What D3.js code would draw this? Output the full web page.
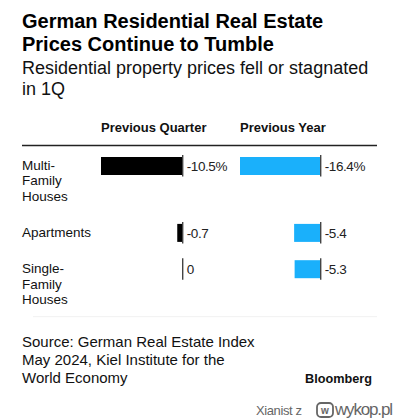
<!DOCTYPE html>
<html>
<head>
<meta charset="utf-8">
<script src="https://cdn.jsdelivr.net/npm/d3@7"></script>
<style>
  html, body { margin: 0; padding: 0; background: #fff; }
  svg { display: block; }
  text { font-family: "Liberation Sans", Arial, sans-serif; }
</style>
</head>
<body>
<svg id="chart" width="400" height="419"></svg>
<script>
// ---- Data ----
const categories = [["Multi-", "Family", "Houses"], ["Apartments"], ["Single-", "Family", "Houses"]];
const columns = ["Previous Quarter", "Previous Year"];
const prevQuarter = [-10.5, -0.7, 0];
const prevYear = [-16.4, -5.4, -5.3];
const prevQuarterLabels = ["-10.5%", "-0.7", "0"];
const prevYearLabels = ["-16.4%", "-5.4", "-5.3"];
const titleLines = ["German Residential Real Estate", "Prices Continue to Tumble"];
const subtitleLines = ["Residential property prices fell or stagnated", "in 1Q"];
const sourceLines = ["Source: German Real Estate Index", "May 2024, Kiel Institute for the", "World Economy"];

// ---- Layout ----
const svg = d3.select("#chart");
const W = 400, H = 419;
svg.append("rect").attr("width", W).attr("height", H).attr("fill", "#fff");
const left = 22, right = 377;
const blue = "#1ab0fb";

// Title
svg.append("g").selectAll("text").data(titleLines).join("text")
  .attr("x", left).attr("y", (d, i) => 27.5 + i * 23)
  .attr("font-size", 20).attr("font-weight", "bold").attr("fill", "#000")
  .text(d => d);

// Subtitle
svg.append("g").selectAll("text").data(subtitleLines).join("text")
  .attr("x", left).attr("y", (d, i) => 74 + i * 21)
  .attr("font-size", 18).attr("fill", "#111")
  .text(d => d);

// Scales (each column has its own scale)
const xQ = d3.scaleLinear().domain([d3.min(prevQuarter), 0]).range([101, 182.7]);
const xY = d3.scaleLinear().domain([d3.min(prevYear), 0]).range([240, 320.7]);
const colDefs = [
  { name: columns[0], scale: xQ, values: prevQuarter, labels: prevQuarterLabels, color: "#000" },
  { name: columns[1], scale: xY, values: prevYear, labels: prevYearLabels, color: blue }
];

// Column headers
svg.append("g").selectAll("text").data(colDefs).join("text")
  .attr("x", d => d.scale.range()[0]).attr("y", 132.3)
  .attr("font-size", 13).attr("font-weight", "bold").attr("fill", "#111")
  .text(d => d.name);

// Header rule
svg.append("line").attr("x1", left).attr("x2", right).attr("y1", 145.5).attr("y2", 145.5)
  .attr("stroke", "#222").attr("stroke-width", 1.3);

// Row positions computed from label line counts
const lineH = 15.3, rowGap = 21, firstTop = 157, barH = 18;
const rowTops = [];
categories.reduce((acc, lines) => { rowTops.push(acc); return acc + lines.length * lineH + rowGap; }, firstTop);

// Category labels
const catG = svg.append("g");
categories.forEach((lines, i) => {
  catG.append("g").selectAll("text").data(lines).join("text")
    .attr("x", left).attr("y", (d, k) => rowTops[i] + 13 + k * lineH)
    .attr("font-size", 13.5).attr("fill", "#111")
    .text(d => d);
});

// Bars
colDefs.forEach(col => {
  const g = svg.append("g");
  const zero = col.scale(0);
  g.selectAll("rect.bar").data(col.values).join("rect")
    .attr("class", "bar")
    .attr("x", d => col.scale(Math.min(d, 0)))
    .attr("y", (d, i) => rowTops[i])
    .attr("width", d => Math.abs(col.scale(d) - zero))
    .attr("height", barH)
    .attr("fill", col.color);
  g.selectAll("line.zero").data(col.values).join("line")
    .attr("class", "zero")
    .attr("x1", zero).attr("x2", zero)
    .attr("y1", (d, i) => rowTops[i] - 2)
    .attr("y2", (d, i) => rowTops[i] + barH + 1.5)
    .attr("stroke", "#444").attr("stroke-width", 1.4);
  g.selectAll("text.val").data(col.labels).join("text")
    .attr("class", "val")
    .attr("x", zero + 4)
    .attr("y", (d, i) => rowTops[i] + barH / 2 + 4.8)
    .attr("font-size", 13.5).attr("fill", "#222").attr("letter-spacing", -0.4)
    .text(d => d);
});

// Faint separator
svg.append("line").attr("x1", 33).attr("x2", right).attr("y1", 316.7).attr("y2", 316.7)
  .attr("stroke", "#f1f1f1").attr("stroke-width", 1);

// Source
svg.append("g").selectAll("text").data(sourceLines).join("text")
  .attr("x", left).attr("y", (d, i) => 346.7 + i * 18)
  .attr("font-size", 15).attr("fill", "#111")
  .text(d => d);

// Bloomberg
svg.append("text").attr("x", 372).attr("y", 382.5).attr("text-anchor", "end")
  .attr("font-size", 12.7).attr("font-weight", "bold").attr("fill", "#111")
  .text("Bloomberg");

// Watermark
const wm = svg.append("g").attr("fill", "#666");
wm.append("text").attr("x", 256).attr("y", 415).attr("font-size", 13)
  .attr("font-family", "Open Sans, sans-serif").attr("textLength", 46)
  .text("Xianist z");
wm.append("rect").attr("x", 317).attr("y", 403).attr("width", 16).attr("height", 14).attr("rx", 4)
  .attr("fill", "none").attr("stroke", "#666").attr("stroke-width", 1.8);
wm.append("text").attr("x", 325).attr("y", 414).attr("text-anchor", "middle")
  .attr("font-size", 10).attr("font-weight", "bold").text("w");
wm.append("text").attr("x", 335).attr("y", 415).attr("font-size", 17)
  .attr("font-family", "Open Sans, sans-serif").attr("textLength", 58)
  .text("wykop.pl");
</script>
</body>
</html>
